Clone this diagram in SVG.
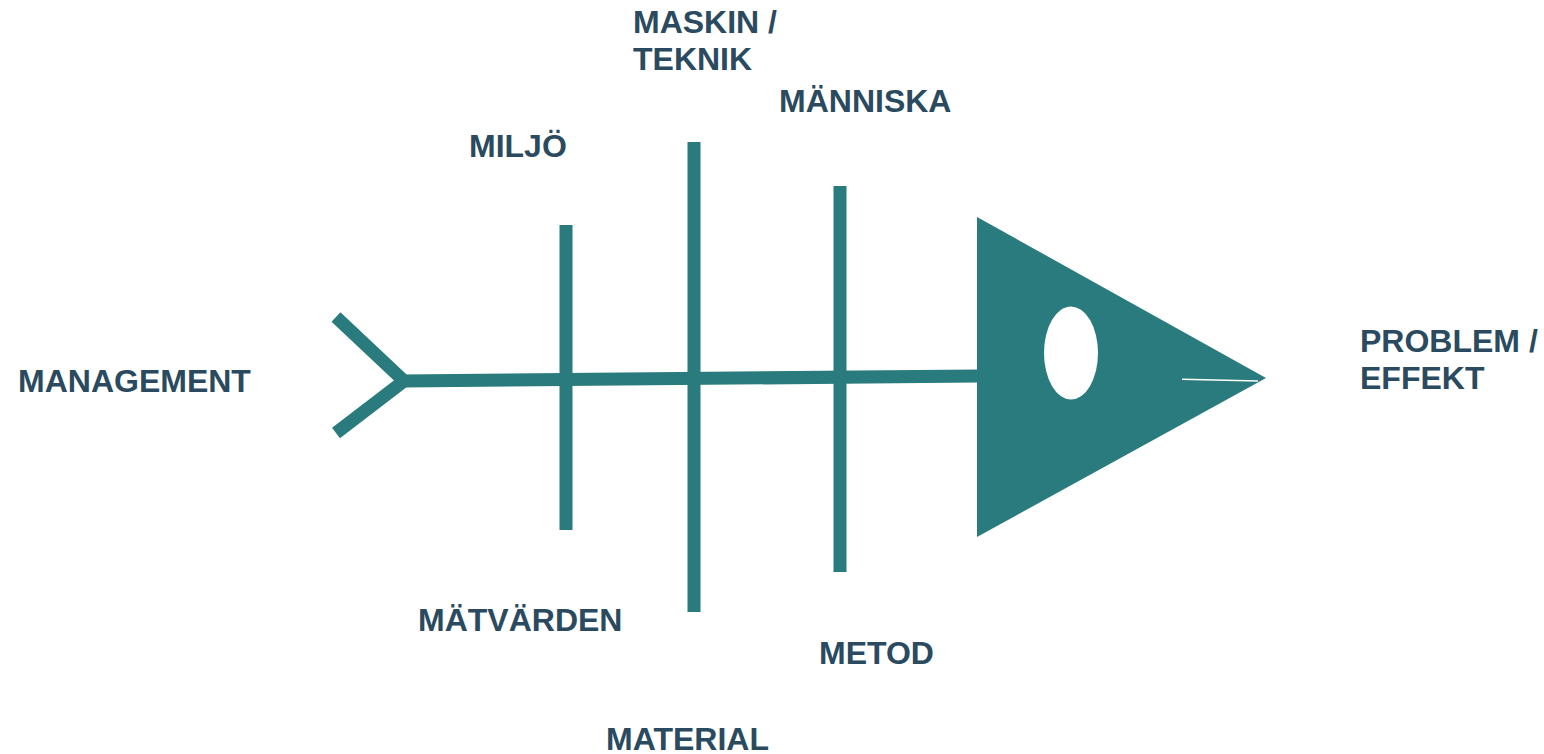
<svg xmlns="http://www.w3.org/2000/svg" width="1544" height="754" viewBox="0 0 1544 754">
<style>
.lbl{font-family:"Liberation Sans",Arial,sans-serif;font-weight:bold;font-size:32px;fill:#2A4A60}
.bone{stroke:#2A7B7D;stroke-width:13;fill:none;stroke-linecap:butt}
</style>
<rect width="1544" height="754" fill="#FFFFFF"/>
<g id="connectors">
<polyline class="bone" points="336,317 404,381 336,433" stroke-linejoin="miter" stroke-miterlimit="10"/>
<line class="bone" x1="402" y1="381" x2="978" y2="376"/>
<line class="bone" x1="566" y1="225" x2="566" y2="530"/>
<line class="bone" x1="694" y1="142" x2="694" y2="612"/>
<line class="bone" x1="840" y1="186" x2="840" y2="572"/>
</g>
<g id="head">
<polygon points="977,217 1266,378 977,537" fill="#2A7B7D"/>
<ellipse cx="1071" cy="353" rx="27" ry="46.5" fill="#FFFFFF"/>
<line x1="1182" y1="379.3" x2="1258" y2="381" stroke="#FFFFFF" stroke-width="1.5"/>
</g>
<g id="management"><text class="lbl" x="18" y="392">MANAGEMENT</text></g>
<g id="miljo"><text class="lbl" x="469" y="157">MILJÖ</text></g>
<g id="maskin"><text class="lbl" x="633" y="33">MASKIN /</text><text class="lbl" x="633" y="70">TEKNIK</text></g>
<g id="manniska"><text class="lbl" x="779" y="112">MÄNNISKA</text></g>
<g id="problem"><text class="lbl" x="1360" y="352">PROBLEM /</text><text class="lbl" x="1360" y="389">EFFEKT</text></g>
<g id="matvarden"><text class="lbl" x="418" y="631">MÄTVÄRDEN</text></g>
<g id="metod"><text class="lbl" x="819" y="664">METOD</text></g>
<g id="material"><text class="lbl" x="606" y="750">MATERIAL</text></g>
</svg>
